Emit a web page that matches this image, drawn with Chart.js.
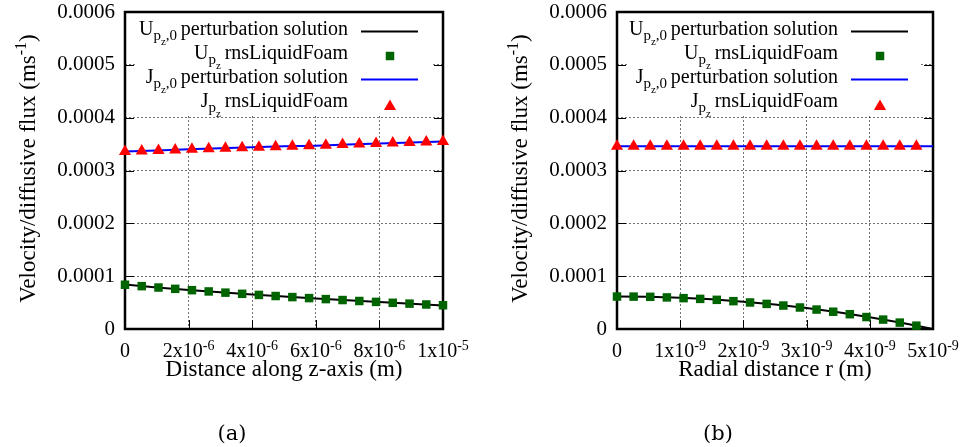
<!DOCTYPE html>
<html>
<head>
<meta charset="utf-8">
<script src="https://cdn.jsdelivr.net/npm/chart.js@4.4.0/dist/chart.umd.min.js"></script>
<style>
  html, body { margin: 0; padding: 0; background: #fff; }
  #wrap { position: relative; width: 967px; height: 447px; }
  canvas { position: absolute; top: 0; }
  #chartA { left: 0; }
  #chartB { left: 483px; }
</style>
</head>
<body>
<div id="wrap">
  <canvas id="chartA" width="483" height="447"></canvas>
  <canvas id="chartB" width="484" height="447"></canvas>
</div>
<script>
// (a) fluxes along the z-axis
const zLine = [0, 1e-6, 2e-6, 3e-6, 4e-6, 5e-6, 6e-6, 7e-6, 8e-6, 9e-6, 1e-5];
const uLineZ = [8.40e-5, 7.87e-5, 7.40e-5, 6.95e-5, 6.53e-5, 6.14e-5, 5.77e-5, 5.43e-5, 5.10e-5, 4.78e-5, 4.47e-5];
const jLineZ = [3.36e-4, 3.38e-4, 3.40e-4, 3.42e-4, 3.44e-4, 3.46e-4, 3.47e-4, 3.49e-4, 3.51e-4, 3.53e-4, 3.55e-4];
const zPts = [0, 5.26e-7, 1.053e-6, 1.579e-6, 2.105e-6, 2.632e-6, 3.158e-6, 3.684e-6, 4.211e-6, 4.737e-6,
              5.263e-6, 5.789e-6, 6.316e-6, 6.842e-6, 7.368e-6, 7.895e-6, 8.421e-6, 8.947e-6, 9.474e-6, 1e-5];
const uPtsZ = [8.38e-5, 8.11e-5, 7.85e-5, 7.60e-5, 7.35e-5, 7.11e-5, 6.88e-5, 6.66e-5, 6.45e-5, 6.24e-5,
               6.04e-5, 5.85e-5, 5.66e-5, 5.48e-5, 5.30e-5, 5.13e-5, 4.96e-5, 4.80e-5, 4.64e-5, 4.49e-5];
const jPtsZ = [3.36e-4, 3.37e-4, 3.38e-4, 3.39e-4, 3.40e-4, 3.41e-4, 3.42e-4, 3.43e-4, 3.44e-4, 3.45e-4,
               3.46e-4, 3.47e-4, 3.48e-4, 3.49e-4, 3.50e-4, 3.51e-4, 3.52e-4, 3.53e-4, 3.54e-4, 3.55e-4];
const zTicks = [0, 2e-6, 4e-6, 6e-6, 8e-6, 1e-5];
const zTickLabels = [['0', ''], ['2x10', '-6'], ['4x10', '-6'], ['6x10', '-6'], ['8x10', '-6'], ['1x10', '-5']];

// (b) fluxes along the radius
const rLine = [0, 5e-10, 1e-9, 1.5e-9, 2e-9, 2.5e-9, 3e-9, 3.5e-9, 4e-9, 4.5e-9, 5e-9];
const uLineR = [6.16e-5, 6.11e-5, 5.93e-5, 5.62e-5, 5.18e-5, 4.63e-5, 3.96e-5, 3.15e-5, 2.22e-5, 1.17e-5, 0];
const jLineR = [3.46e-4, 3.46e-4, 3.46e-4, 3.46e-4, 3.46e-4, 3.46e-4, 3.46e-4, 3.46e-4, 3.46e-4, 3.46e-4, 3.46e-4];
const rPts = [0, 2.63e-10, 5.26e-10, 7.89e-10, 1.053e-9, 1.316e-9, 1.579e-9, 1.842e-9, 2.105e-9, 2.368e-9,
              2.632e-9, 2.895e-9, 3.158e-9, 3.421e-9, 3.684e-9, 3.947e-9, 4.211e-9, 4.474e-9, 4.737e-9];
const uPtsR = [6.14e-5, 6.13e-5, 6.09e-5, 5.98e-5, 5.84e-5, 5.70e-5, 5.52e-5, 5.27e-5, 5.02e-5, 4.75e-5,
               4.44e-5, 4.07e-5, 3.68e-5, 3.27e-5, 2.80e-5, 2.26e-5, 1.78e-5, 1.21e-5, 0.63e-5];
const jPtsR = [3.46e-4, 3.46e-4, 3.46e-4, 3.46e-4, 3.46e-4, 3.46e-4, 3.46e-4, 3.46e-4, 3.46e-4, 3.46e-4,
               3.46e-4, 3.46e-4, 3.46e-4, 3.46e-4, 3.46e-4, 3.46e-4, 3.46e-4, 3.46e-4, 3.46e-4];
const rTicks = [0, 1e-9, 2e-9, 3e-9, 4e-9, 5e-9];
const rTickLabels = [['0', ''], ['1x10', '-9'], ['2x10', '-9'], ['3x10', '-9'], ['4x10', '-9'], ['5x10', '-9']];

const yTicks = [0, 0.0001, 0.0002, 0.0003, 0.0004, 0.0005, 0.0006];
const yTickLabels = ['0', '0.0001', '0.0002', '0.0003', '0.0004', '0.0005', '0.0006'];

const SERIF = '"Liberation Serif", "Times New Roman", serif';
const GRID = 'rgba(0,0,0,0.55)';

// font size and baseline shift per text level: 0 normal, 1 subscript, 2 sub-subscript, 3 superscript
const legendStyle = { 0: [20, 0], 1: [15, 5], 2: [11, 10] };
const tickStyle = { 0: [20, 0], 3: [14, -7] };
const titleStyle = { 0: [23, 0], 3: [16, -9] };

const legendRows = [
  { parts: [['U', 0], ['p', 1], ['z', 2], [',0', 1], [' ', 1], ['perturbation solution', 0]], kind: 'line', color: '#000000' },
  { parts: [['U', 0], ['p', 1], ['z', 2], [' ', 1], ['rnsLiquidFoam', 0]], kind: 'rect', color: '#006400' },
  { parts: [['J', 0], ['p', 1], ['z', 2], [',0', 1], [' ', 1], ['perturbation solution', 0]], kind: 'line', color: '#0000ff' },
  { parts: [['J', 0], ['p', 1], ['z', 2], [' ', 1], ['rnsLiquidFoam', 0]], kind: 'triangle', color: '#ff0000' }
];

function richWidth(ctx, parts, style) {
  let w = 0;
  for (const [t, lv] of parts) {
    ctx.font = style[lv][0] + 'px ' + SERIF;
    w += ctx.measureText(t).width;
  }
  return w;
}

function drawRich(ctx, parts, x, y, align, style) {
  const w = richWidth(ctx, parts, style);
  let cx = align === 'right' ? x - w : align === 'center' ? x - w / 2 : x;
  ctx.textAlign = 'left';
  ctx.textBaseline = 'alphabetic';
  for (const [t, lv] of parts) {
    ctx.font = style[lv][0] + 'px ' + SERIF;
    ctx.fillText(t, cx, y + style[lv][1]);
    cx += ctx.measureText(t).width;
  }
}

const pts = (xs, ys) => xs.map((x, i) => ({ x, y: ys[i] }));

function makeChart(id, cfg) {
  const canvas = document.getElementById(id);
  const H = canvas.height;

  // gnuplot-like frame: inward ticks, opaque key, thick border, rich text labels
  const frame = {
    id: 'frame',
    beforeDatasetsDraw(chart) {
      const { ctx, chartArea: a, scales: { x, y } } = chart;
      ctx.save();
      ctx.setLineDash([]);
      ctx.strokeStyle = '#000';
      ctx.lineWidth = 1;
      ctx.beginPath();
      for (const v of cfg.xTicks) {
        const px = Math.round(x.getPixelForValue(v)) + 0.5;
        ctx.moveTo(px, a.bottom); ctx.lineTo(px, a.bottom - 9);
        ctx.moveTo(px, a.top); ctx.lineTo(px, a.top + 9);
      }
      for (const v of yTicks) {
        const py = Math.round(y.getPixelForValue(v)) + 0.5;
        ctx.moveTo(a.left, py); ctx.lineTo(a.left + 9, py);
        ctx.moveTo(a.right, py); ctx.lineTo(a.right - 9, py);
      }
      ctx.stroke();

      // key
      ctx.fillStyle = '#fff';
      ctx.fillRect(a.left + 10, a.top + 1, a.right - a.left - 22, 103);
      const textRight = a.right - 95;
      legendRows.forEach((row, i) => {
        const base = a.top + 23 + i * 24;
        ctx.fillStyle = '#000';
        drawRich(ctx, row.parts, textRight, base, 'right', legendStyle);
        if (row.kind === 'line') {
          ctx.strokeStyle = row.color;
          ctx.lineWidth = 2;
          ctx.beginPath();
          ctx.moveTo(textRight + 13, base - 3.5);
          ctx.lineTo(textRight + 70, base - 3.5);
          ctx.stroke();
        } else {
          ctx.fillStyle = row.color;
          const r = row.kind === 'rect' ? 6 : 7;
          const dy = row.kind === 'rect' ? -3 : -0.5;
          Chart.helpers.drawPoint(ctx, { pointStyle: row.kind, radius: r, rotation: 0, borderWidth: 0 }, textRight + 42, base + dy);
        }
      });

      ctx.strokeStyle = '#000';
      ctx.lineWidth = 2.5;
      ctx.strokeRect(a.left, a.top, a.right - a.left, a.bottom - a.top);
      ctx.restore();
    },
    afterDraw(chart) {
      const { ctx, chartArea: a, scales: { x } } = chart;
      ctx.save();
      ctx.fillStyle = '#000';
      cfg.xTicks.forEach((v, i) => {
        const [b, e] = cfg.xTickLabels[i];
        const parts = e ? [[b, 0], [e, 3]] : [[b, 0]];
        drawRich(ctx, parts, x.getPixelForValue(v), a.bottom + 28, 'center', tickStyle);
      });
      drawRich(ctx, [[cfg.xTitle, 0]], (a.left + a.right) / 2, a.bottom + 47, 'center', titleStyle);

      ctx.save();
      ctx.translate(a.left - 90, (a.top + a.bottom) / 2 - 2);
      ctx.rotate(-Math.PI / 2);
      drawRich(ctx, [['Velocity/diffusive flux (ms', 0], ['-1', 3], [')', 0]], 0, 0, 'center', titleStyle);
      ctx.restore();

      ctx.font = '21px "DejaVu Serif", serif';
      ctx.textAlign = 'center';
      ctx.textBaseline = 'alphabetic';
      ctx.fillText(cfg.caption, cfg.captionX, 440);
      ctx.restore();
    }
  };

  return new Chart(canvas, {
    type: 'scatter',
    data: {
      datasets: [
        { data: pts(cfg.lineX, cfg.uLine), showLine: true, borderColor: '#000000', borderWidth: 2,
          pointRadius: 0, fill: false, tension: 0, order: 4 },
        { data: pts(cfg.ptsX, cfg.uPts), pointStyle: 'rect', pointRadius: 6, borderWidth: 0,
          backgroundColor: '#006400', order: 3 },
        { data: pts(cfg.lineX, cfg.jLine), showLine: true, borderColor: '#0000ff', borderWidth: 2,
          pointRadius: 0, fill: false, tension: 0, order: 2 },
        { data: pts(cfg.ptsX, cfg.jPts), pointStyle: 'triangle', pointRadius: 7, borderWidth: 0,
          backgroundColor: '#ff0000', order: 1 }
      ]
    },
    options: {
      responsive: false,
      animation: false,
      events: [],
      clip: false,
      layout: { padding: { top: 12, right: cfg.padRight, bottom: 0, left: 0 } },
      plugins: { legend: { display: false }, tooltip: { enabled: false } },
      scales: {
        x: {
          type: 'linear',
          min: cfg.xTicks[0],
          max: cfg.xTicks[cfg.xTicks.length - 1],
          afterBuildTicks: s => { s.ticks = cfg.xTicks.map(v => ({ value: v })); },
          afterFit: s => { s.height = H - 329; s.paddingLeft = 0; s.paddingRight = 0; },
          ticks: { display: false },
          grid: { color: GRID, lineWidth: 1, drawTicks: false },
          border: { display: false, dash: [2, 2] }
        },
        y: {
          min: 0,
          max: 0.0006,
          afterBuildTicks: s => { s.ticks = yTicks.map(v => ({ value: v })); },
          afterFit: s => { s.width = cfg.yAxisW; s.paddingTop = 0; s.paddingBottom = 0; },
          ticks: {
            padding: 10,
            color: '#000',
            autoSkip: false,
            font: { family: SERIF, size: 21 },
            callback: (v, i) => yTickLabels[i]
          },
          grid: { color: GRID, lineWidth: 1, drawTicks: false },
          border: { display: false, dash: [2, 2] }
        }
      }
    },
    plugins: [frame]
  });
}

makeChart('chartA', {
  lineX: zLine, uLine: uLineZ, jLine: jLineZ,
  ptsX: zPts, uPts: uPtsZ, jPts: jPtsZ,
  xTicks: zTicks, xTickLabels: zTickLabels,
  xTitle: 'Distance along z-axis (m)',
  caption: '(a)', captionX: 232,
  yAxisW: 125, padRight: 40
});

makeChart('chartB', {
  lineX: rLine, uLine: uLineR, jLine: jLineR,
  ptsX: rPts, uPts: uPtsR, jPts: jPtsR,
  xTicks: rTicks, xTickLabels: rTickLabels,
  xTitle: 'Radial distance r (m)',
  caption: '(b)', captionX: 235,
  yAxisW: 134, padRight: 34
});
</script>
</body>
</html>
